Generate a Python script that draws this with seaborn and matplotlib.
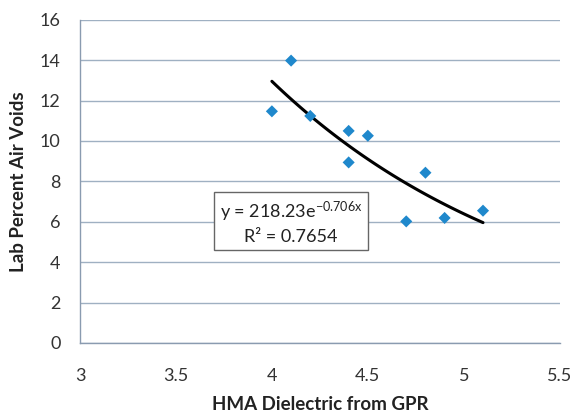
import numpy as np
import pandas as pd
import seaborn as sns
import matplotlib.pyplot as plt

sns.set_style("white")
plt.rcParams['font.family'] = ['Lato', 'DejaVu Sans']
plt.rcParams['mathtext.default'] = 'regular'
plt.rcParams['axes.unicode_minus'] = False

# data
dielectric = [4.0, 4.1, 4.2, 4.4, 4.5, 4.4, 4.8, 4.7, 4.9, 5.1]
air_voids = [11.47, 13.98, 11.24, 10.5, 10.26, 8.94, 8.43, 6.02, 6.19, 6.55]

# exponential trendline coefficients (from the label)
fit_a = 218.23
fit_b = -0.706
r_squared = 0.7654

df = pd.DataFrame({"x": dielectric, "y": air_voids})
x_fit = np.linspace(min(dielectric), max(dielectric), 60)
trend = pd.DataFrame({"x": x_fit, "y": fit_a * np.exp(fit_b * x_fit)})

fig = plt.figure(figsize=(5.88, 4.17), dpi=100)
ax = fig.add_axes([0.136, 0.1775, 0.816, 0.775])

ax.yaxis.grid(True, color="#9fb0c2", linewidth=1.0)
ax.set_axisbelow(True)

sns.lineplot(data=trend, x="x", y="y", color="black", linewidth=2.2, ax=ax, zorder=3)
sns.scatterplot(data=df, x="x", y="y", marker="D", s=38, color="#1f88cc",
                edgecolor="none", ax=ax, zorder=4)

ax.set_xlim(3, 5.5)
ax.set_ylim(0, 16)
ax.set_xticks([3, 3.5, 4, 4.5, 5, 5.5])
ax.set_xticklabels(["3", "3.5", "4", "4.5", "5", "5.5"])
ax.set_yticks(range(0, 17, 2))

for side in ["top", "right"]:
    ax.spines[side].set_visible(False)
for side in ["left", "bottom"]:
    ax.spines[side].set_color("#8a9bb0")
    ax.spines[side].set_linewidth(1.0)

ax.tick_params(axis="both", which="major", direction="out", length=5, width=1,
               color="#8a9bb0", labelsize=13, labelcolor="#333333", pad=9)
ax.tick_params(axis="x", pad=13)

ax.set_xlabel("HMA Dielectric from GPR", fontsize=13.5, fontweight="bold",
              color="#222222", labelpad=9)
ax.set_ylabel("Lab Percent Air Voids", fontsize=13.5, fontweight="bold",
              color="#222222", labelpad=9)

ax.text(0.44, 0.373,
        "y = %.2fe$^{%.3fx}$\nR\u00b2 = %.4f" % (fit_a, fit_b, r_squared),
        transform=ax.transAxes, ha="center", va="center", fontsize=13,
        linespacing=1.35, color="#222222", zorder=5,
        bbox=dict(boxstyle="square,pad=0.3", facecolor="white",
                  edgecolor="#666666", linewidth=1.0))

fig.savefig("out.png", dpi=100)
